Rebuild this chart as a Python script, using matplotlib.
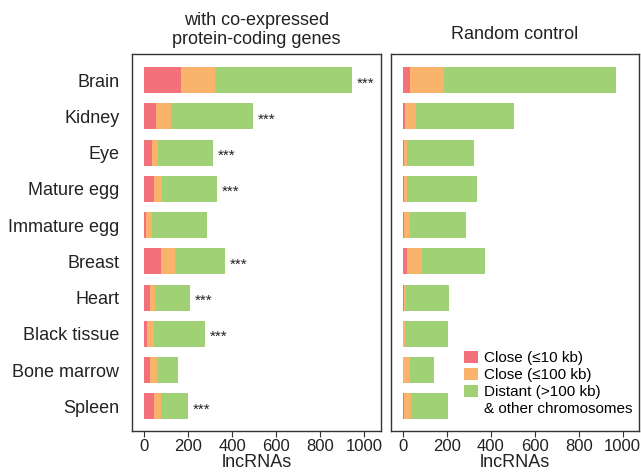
import matplotlib
matplotlib.use("Agg")
import matplotlib.pyplot as plt
from matplotlib.patches import Patch

plt.rcParams['font.family'] = ['Liberation Sans', 'DejaVu Sans']

tissues = ["Brain", "Kidney", "Eye", "Mature egg", "Immature egg",
           "Breast", "Heart", "Black tissue", "Bone marrow", "Spleen"]

# lncRNAs with co-expressed protein-coding genes, split by distance class
coexp_close10 = [167, 54, 36, 45, 9, 77, 27, 14, 27, 45]
coexp_close100 = [154, 68, 27, 36, 27, 63, 23, 31, 32, 32]
coexp_distant = [624, 371, 249, 249, 249, 226, 158, 231, 95, 122]
coexp_sig = ["***", "***", "***", "***", "", "***", "***", "***", "", "***"]

# random control
rand_close10 = [32, 9, 5, 5, 5, 19, 5, 0, 0, 5]
rand_close100 = [153, 51, 14, 14, 27, 69, 9, 9, 32, 32]
rand_distant = [783, 445, 305, 319, 255, 287, 194, 195, 107, 167]

legend_labels = ["Close (\u226410 kb)", "Close (\u2264100 kb)",
                 "Distant (>100 kb)", "& other chromosomes"]
xticks = [0, 200, 400, 600, 800, 1000]

c_red = "#F2717A"
c_orange = "#F9B36A"
c_green = "#A0D174"
ink = "#222222"

W, H = 641, 473
fig = plt.figure(figsize=(W / 100, H / 100), dpi=100)

def box(l, r, t, b):
    return [l / W, 1 - b / H, (r - l) / W, (b - t) / H]

ax1 = fig.add_axes(box(132, 381, 54, 431))
ax2 = fig.add_axes(box(391, 639, 54, 431))

ypos = list(range(len(tissues)))
bh = 0.72


def stacked(ax, a, b, c):
    left2 = [x for x in a]
    left3 = [x + y for x, y in zip(a, b)]
    ax.barh(ypos, a, height=bh, color=c_red, linewidth=0)
    ax.barh(ypos, b, left=left2, height=bh, color=c_orange, linewidth=0)
    ax.barh(ypos, c, left=left3, height=bh, color=c_green, linewidth=0)
    return [x + y for x, y in zip(left3, c)]


tot1 = stacked(ax1, coexp_close10, coexp_close100, coexp_distant)
stacked(ax2, rand_close10, rand_close100, rand_distant)

for i, (t, s) in enumerate(zip(tot1, coexp_sig)):
    if s:
        ax1.text(t + 22, i + 0.2, s, fontsize=11, color=ink,
                 ha="left", va="baseline")

for ax in (ax1, ax2):
    ax.set_xlim(-55, 1075)
    ax.set_ylim(9.68, -0.72)
    ax.set_xticks(xticks)
    ax.set_xticklabels([str(v) for v in xticks])
    ax.tick_params(axis="x", direction="out", length=4, width=0.8,
                   colors="#333333", labelsize=12, labelcolor=ink, pad=2)
    ax.set_xlabel("lncRNAs", fontsize=13, color=ink, labelpad=0)
    for sp in ax.spines.values():
        sp.set_color("#333333")
        sp.set_linewidth(1.0)

ax1.set_yticks(ypos)
ax1.set_yticklabels(tissues, fontsize=13, color=ink)
ax1.tick_params(axis="y", length=0, pad=9)
ax2.set_yticks([])

ax1.set_title("with co-expressed\nprotein-coding genes", fontsize=13,
              color=ink, pad=7, linespacing=1.15)
ax2.set_title("Random control", fontsize=13, color=ink, pad=11)

handles = [Patch(facecolor=c_red, edgecolor="none"),
           Patch(facecolor=c_orange, edgecolor="none"),
           Patch(facecolor=c_green, edgecolor="none"),
           Patch(facecolor="none", edgecolor="none")]
ax2.legend(handles, legend_labels, loc="upper left",
           bbox_to_anchor=(0.294, 0.212), frameon=False, fontsize=11,
           handlelength=0.95, handleheight=0.8, handletextpad=0.35,
           labelspacing=0.18, borderpad=0, borderaxespad=0)

fig.savefig("out.png", dpi=100)
